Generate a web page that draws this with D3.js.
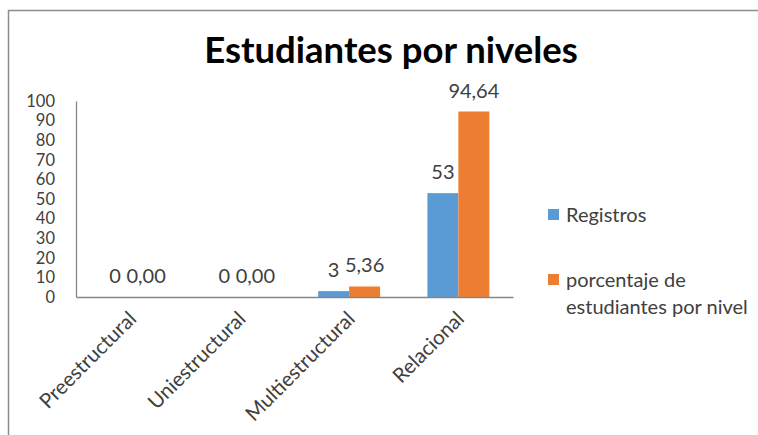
<!DOCTYPE html>
<html lang="es">
<head>
  <meta charset="UTF-8">
  <title>Estudiantes por niveles</title>
  <script src="https://d3js.org/d3.v7.min.js"></script>
  <style>
    body { margin: 0; padding: 0; background: #fff; overflow: hidden; }
    svg { display: block; font-family: Lato, "Open Sans", sans-serif; }
    .axis-label { font-size: 16.5px; fill: #404040; font-family: Lato, sans-serif; }
    .cat-label { font-size: 20.5px; fill: #404040; font-family: Lato, sans-serif; }
    .data-label { font-size: 20px; fill: #404040; }
    .legend-label { font-size: 20px; fill: #404040; }
  </style>
</head>
<body>
  <div id="chart"></div>
  <script>
    // data
    const categories = ["Preestructural", "Uniestructural", "Multiestructural", "Relacional"];
    const registros = [0, 0, 3, 53];
    const porcentaje = [0, 0, 5.36, 94.64];
    const seriesNames = ["Registros", "porcentaje de estudiantes por nivel"];
    const yTicks = [0, 10, 20, 30, 40, 50, 60, 70, 80, 90, 100];

    const colors = ["#5B9BD5", "#ED7D31"];
    const W = 758, H = 435;

    // plot area
    const plot = { left: 76, right: 513, top: 101, bottom: 297 };

    const svg = d3.select("#chart").append("svg")
      .attr("width", W)
      .attr("height", H);

    // outer chart frame (runs off the right and bottom edge)
    svg.append("rect")
      .attr("x", 8.5).attr("y", 10.5)
      .attr("width", W + 40).attr("height", H + 40)
      .attr("fill", "none")
      .attr("stroke", "#8c8c8c")
      .attr("stroke-width", 1.5);

    // title
    svg.append("text")
      .attr("x", 391).attr("y", 63)
      .attr("text-anchor", "middle")
      .style("font-size", "36.5px")
      .style("font-weight", "bold")
      .attr("fill", "#000")
      .text("Estudiantes por niveles");

    // scales
    const x = d3.scaleBand()
      .domain(categories)
      .range([plot.left, plot.right])
      .paddingInner(0.433)
      .paddingOuter(0.2165);

    const xSub = d3.scaleBand()
      .domain([0, 1])
      .range([0, x.bandwidth()]);

    const y = d3.scaleLinear()
      .domain([0, 100])
      .range([plot.bottom, plot.top]);

    // y axis
    const yAxis = svg.append("g")
      .attr("transform", `translate(${plot.left},0)`)
      .call(d3.axisLeft(y).tickValues(yTicks).tickSize(0).tickPadding(21))
      .attr("font-family", null)
      .attr("font-size", null);
    yAxis.select(".domain").attr("stroke", "#868686").attr("stroke-width", 1.3);
    yAxis.selectAll("text").attr("class", "axis-label").attr("fill", null);

    // bars
    const series = [registros, porcentaje];
    const fmt = [d3.format("d"), v => d3.format(".2f")(v).replace(".", ",")];

    series.forEach((vals, s) => {
      const g = svg.append("g");
      g.selectAll("rect")
        .data(vals)
        .join("rect")
          .attr("x", (d, i) => x(categories[i]) + xSub(s))
          .attr("y", d => y(d))
          .attr("width", xSub.bandwidth())
          .attr("height", d => y(0) - y(d))
          .attr("fill", colors[s]);
      g.selectAll("text")
        .data(vals)
        .join("text")
          .attr("class", "data-label")
          .attr("x", (d, i) => x(categories[i]) + xSub(s) + xSub.bandwidth() / 2)
          .attr("y", d => y(d) - 14)
          .attr("text-anchor", "middle")
          .text(d => fmt[s](d));
    });

    // x axis
    const xAxis = svg.append("g")
      .attr("transform", `translate(0,${plot.bottom})`)
      .call(d3.axisBottom(x).tickSize(0).tickSizeOuter(0))
      .attr("font-family", null)
      .attr("font-size", null);
    xAxis.select(".domain").attr("stroke", "#868686").attr("stroke-width", 1.3);
    xAxis.selectAll(".tick text")
      .attr("class", "cat-label")
      .attr("fill", null)
      .attr("text-anchor", "end")
      .attr("dy", 0)
      .attr("y", 0)
      .attr("transform", "translate(7,23) rotate(-45)");

    // legend
    const legend = svg.append("g");
    const legendY = [222, 287];
    seriesNames.forEach((name, i) => {
      legend.append("rect")
        .attr("x", 548).attr("y", legendY[i] - 13)
        .attr("width", 11).attr("height", 11)
        .attr("fill", colors[i]);
      const t = legend.append("text")
        .attr("class", "legend-label")
        .attr("x", 566).attr("y", legendY[i]);
      if (i === 1) {
        t.append("tspan").attr("x", 566).text("porcentaje de");
        t.append("tspan").attr("x", 566).attr("dy", 27).text("estudiantes por nivel");
      } else {
        t.text(name);
      }
    });
  </script>
</body>
</html>
